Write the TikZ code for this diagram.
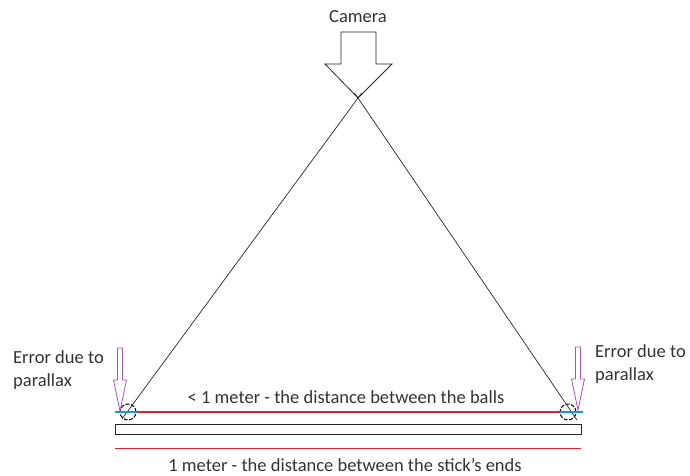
\documentclass[tikz,border=0pt]{standalone}
\usepackage{fontspec}
\setmainfont{Carlito}
\usetikzlibrary{calc,positioning}
\definecolor{errpurple}{RGB}{172,82,192}
\definecolor{balllinered}{RGB}{228,30,44}
\definecolor{tickblue}{RGB}{20,150,225}
\tikzset{ray/.style={draw=black!85, line width=0.7pt},
  ball/.style={draw=black, circle, line width=1pt, dash pattern=on 4pt off 1.5pt, minimum size=16pt, inner sep=0pt},
  stick/.style={draw=black!85, line width=0.8pt, minimum width=466pt, minimum height=10pt, inner sep=0pt},
  redline/.style={draw=balllinered, line width=1.2pt},
  blueline/.style={draw=tickblue, line width=1.2pt},
  lbl/.style={font=\fontsize{18.5}{23}\selectfont, text=black!80, inner sep=0pt, align=left},
  errarrow/.pic={\draw[errpurple, line width=0.8pt, fill=white] (0,0) -- (-6.5,-31) -- (-2.5,-31) -- (-2.5,-63) -- (2.5,-63) -- (2.5,-31) -- (6.5,-31) -- cycle;}}

\begin{document}
\begin{tikzpicture}[x=1pt, y=-1pt]
  \useasboundingbox (0,0) rectangle (690,476);
  % camera
  \node[lbl] (cam) at (358,17) {Camera};
  \coordinate (eye) at (358,98);
  \draw[ray, line width=0.8pt] (341,32) -- (376,32) -- (376,64) -- (392,64) -- (eye) -- (325,64) -- (341,64) -- cycle;
  % stick and balls
  \node[stick] (stick) at (348,429) {};
  \node[ball] (lball) at (128,412) {};
  \node[ball] (rball) at (568,412) {};
  \coordinate (lfoot) at (122,419);
  \coordinate (rfoot) at (577,420);
  \draw[ray] (lfoot) -- ($(lfoot)!1.016!(eye)$);
  \draw[ray] (rfoot) -- ($(rfoot)!1.016!(eye)$);
  % distances
  \draw[redline] (lball.east) -- (rball.west);
  \draw[blueline] (stick.west |- lball) -- (lball.east);
  \draw[blueline] (rball.west) -- ($(stick.east |- rball)+(2,0)$);
  \draw[redline] ($(stick.south west)+(0,14)$) -- ($(stick.south east)+(0,14)$);
  \node[lbl] (balls) at (346,397) {< 1 meter - the distance between the balls};
  \node[lbl] (ends) at (345,465) {1 meter - the distance between the stick's ends};
  % parallax error
  \pic at (120,411) {errarrow};
  \pic at (578,410) {errarrow};
  \node[lbl, anchor=west] (lerr) at (13,370) {Error due to\\parallax};
  \node[lbl, anchor=west] (rerr) at (595,364) {Error due to\\parallax};
\end{tikzpicture}
\end{document}
